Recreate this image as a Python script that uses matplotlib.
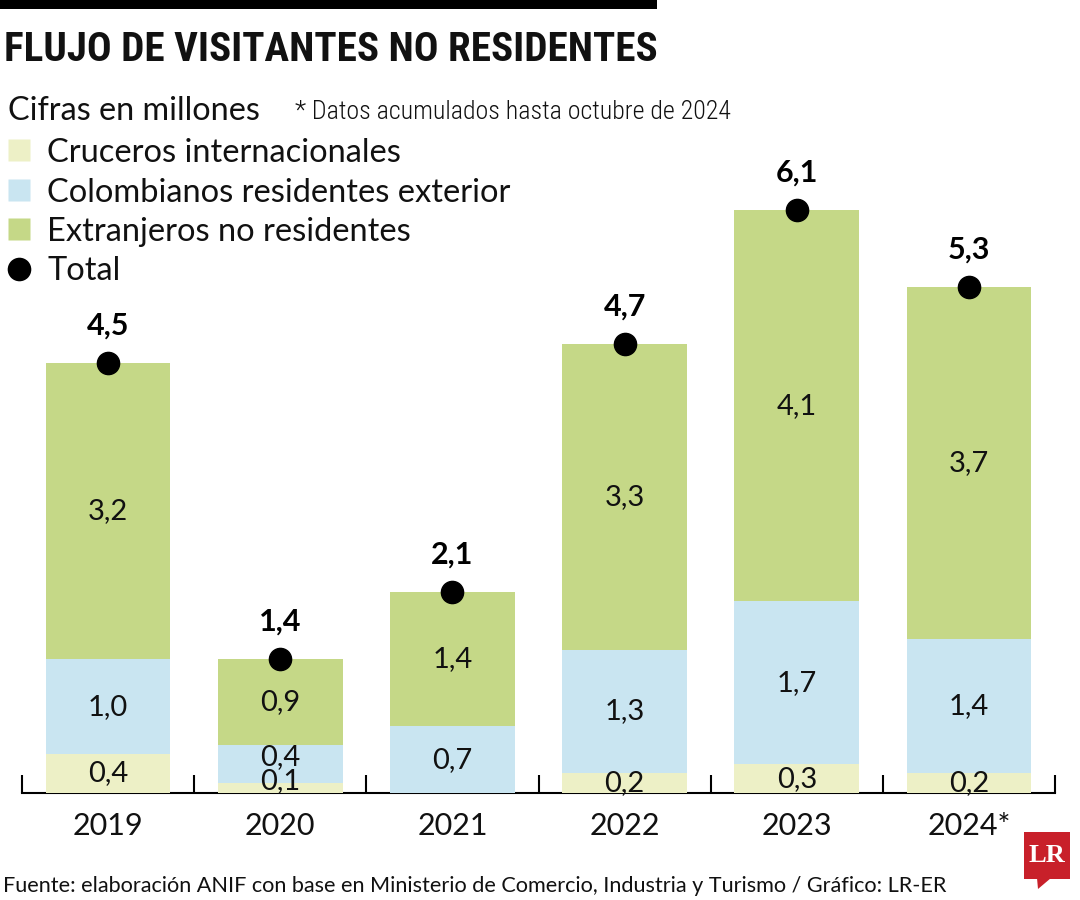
import matplotlib
matplotlib.use("Agg")
import matplotlib.pyplot as plt
from matplotlib.patches import Rectangle, Polygon
from matplotlib.lines import Line2D

# data (millones de visitantes)
years = ["2019", "2020", "2021", "2022", "2023", "2024*"]
cruceros = [0.41, 0.10, 0.00, 0.21, 0.30, 0.21]
colombianos = [0.99, 0.40, 0.70, 1.29, 1.71, 1.40]
extranjeros = [3.10, 0.90, 1.40, 3.20, 4.09, 3.69]
totales = [4.5, 1.4, 2.1, 4.7, 6.1, 5.3]

cruceros_lbl = ["0,4", "0,1", "", "0,2", "0,3", "0,2"]
colombianos_lbl = ["1,0", "0,4", "0,7", "1,3", "1,7", "1,4"]
extranjeros_lbl = ["3,2", "0,9", "1,4", "3,3", "4,1", "3,7"]
totales_lbl = ["4,5", "1,4", "2,1", "4,7", "6,1", "5,3"]

legend_names = ["Cruceros internacionales", "Colombianos residentes exterior",
                "Extranjeros no residentes", "Total"]

c_cru = "#EDF0C6"
c_col = "#C9E5F1"
c_ext = "#C5D887"
ink = "#111111"

BODY = ["Lato", "DejaVu Sans"]
NARROW = ["Roboto Condensed", "Roboto", "DejaVu Sans"]

W, H = 1080, 900
fig = plt.figure(figsize=(W / 100, H / 100), dpi=100)


def fy(py):
    return 1 - py / H


# top black rule and title
fig.add_artist(Rectangle((0, fy(9)), 657 / W, 9 / H, transform=fig.transFigure,
                         color="black", lw=0))
fig.text(4 / W, fy(61), "FLUJO DE VISITANTES NO RESIDENTES", family=NARROW,
         fontsize=29.6, fontweight="bold", color=ink, va="baseline", ha="left")
fig.text(8 / W, fy(120), "Cifras en millones", family=BODY,
         fontsize=23.3, color=ink, va="baseline")
fig.text(295 / W, fy(119), "* Datos acumulados hasta octubre de 2024", family=NARROW,
         fontweight="light", fontsize=18.6, color=ink, va="baseline")

# legend drawn row by row
leg_colors = [c_cru, c_col, c_ext, "black"]
leg_marks = ["s", "s", "s", "o"]
for k, (name, col, mk) in enumerate(zip(legend_names, leg_colors, leg_marks)):
    yc = 150 + 39.5 * k
    fig.add_artist(Line2D([19 / W], [fy(yc)], transform=fig.transFigure, ls="",
                          marker=mk, ms=16.5 if mk == "s" else 17, mfc=col, mec="none"))
    fig.text(47 / W, fy(yc + 12), name, family=BODY, fontsize=23.5, color=ink,
             va="baseline")

# axes: baseline at y=793px, 95.5 px per million
ax = fig.add_axes([22 / W, fy(793), (1055 - 22) / W, 7 * 95.5 / H])
ax.set_xlim(-0.5, 5.5)
ax.set_ylim(0, 7)
ax.patch.set_alpha(0)

x = list(range(len(years)))
bw = 0.725
b1 = cruceros
b2 = [a + b for a, b in zip(cruceros, colombianos)]
ax.bar(x, cruceros, bw, color=c_cru, zorder=2)
ax.bar(x, colombianos, bw, bottom=b1, color=c_col, zorder=2)
ax.bar(x, extranjeros, bw, bottom=b2, color=c_ext, zorder=2)
ax.plot(x, totales, "o", color="black", ms=16, zorder=4, clip_on=False)

# segment labels (2020 labels nudged up a bit, as in the original)
nudge = [0, 5, 0, 0, 0, 0]
for i in x:
    segs = [(0, cruceros[i], cruceros_lbl[i]),
            (b1[i], colombianos[i], colombianos_lbl[i]),
            (b2[i], extranjeros[i], extranjeros_lbl[i])]
    for k, (bot, h, lbl) in enumerate(segs):
        if not lbl:
            continue
        dy = nudge[i] if k < 2 else 0
        ax.annotate(lbl, (i, bot + h / 2), xytext=(0, dy), textcoords="offset points",
                    ha="center", va="center", family=BODY,
                    fontsize=21, color=ink, zorder=5)
    ax.annotate(totales_lbl[i], (i, totales[i]), xytext=(0, 27), textcoords="offset points",
                ha="center", va="center", family=BODY, fontweight="bold",
                fontsize=22, color="black", zorder=5)

for s in ["top", "left", "right"]:
    ax.spines[s].set_visible(False)
ax.spines["bottom"].set_linewidth(1.5)
ax.spines["bottom"].set_zorder(1)
ax.set_yticks([])
ax.set_xticks([i - 0.5 for i in range(len(years) + 1)])
ax.set_xticklabels([])
ax.tick_params(axis="x", which="major", direction="in", length=13, width=1.5, color="black")
ax.set_xticks(x, minor=True)
ax.set_xticklabels(years, minor=True, family=BODY, fontsize=22, color=ink)
ax.tick_params(axis="x", which="minor", length=0, pad=14)

# footer and logo
fig.text(3 / W, fy(886),
         "Fuente: elaboración ANIF con base en Ministerio de Comercio, Industria y Turismo / Gráfico: LR-ER",
         family=BODY, fontsize=15.6, color=ink, va="center")
red = "#C8202A"
fig.add_artist(Rectangle((1024 / W, fy(879)), 46 / W, 47 / H, transform=fig.transFigure,
                         color=red, lw=0))
fig.add_artist(Polygon([(1037 / W, fy(878)), (1051 / W, fy(878)), (1038 / W, fy(889))],
                       closed=True, transform=fig.transFigure, color=red, lw=0))
fig.text(1047 / W, fy(855), "LR", family=["Liberation Serif", "DejaVu Serif"],
         fontweight="bold", fontsize=19, color="white", ha="center", va="center")

fig.savefig("out.png", dpi=100)
